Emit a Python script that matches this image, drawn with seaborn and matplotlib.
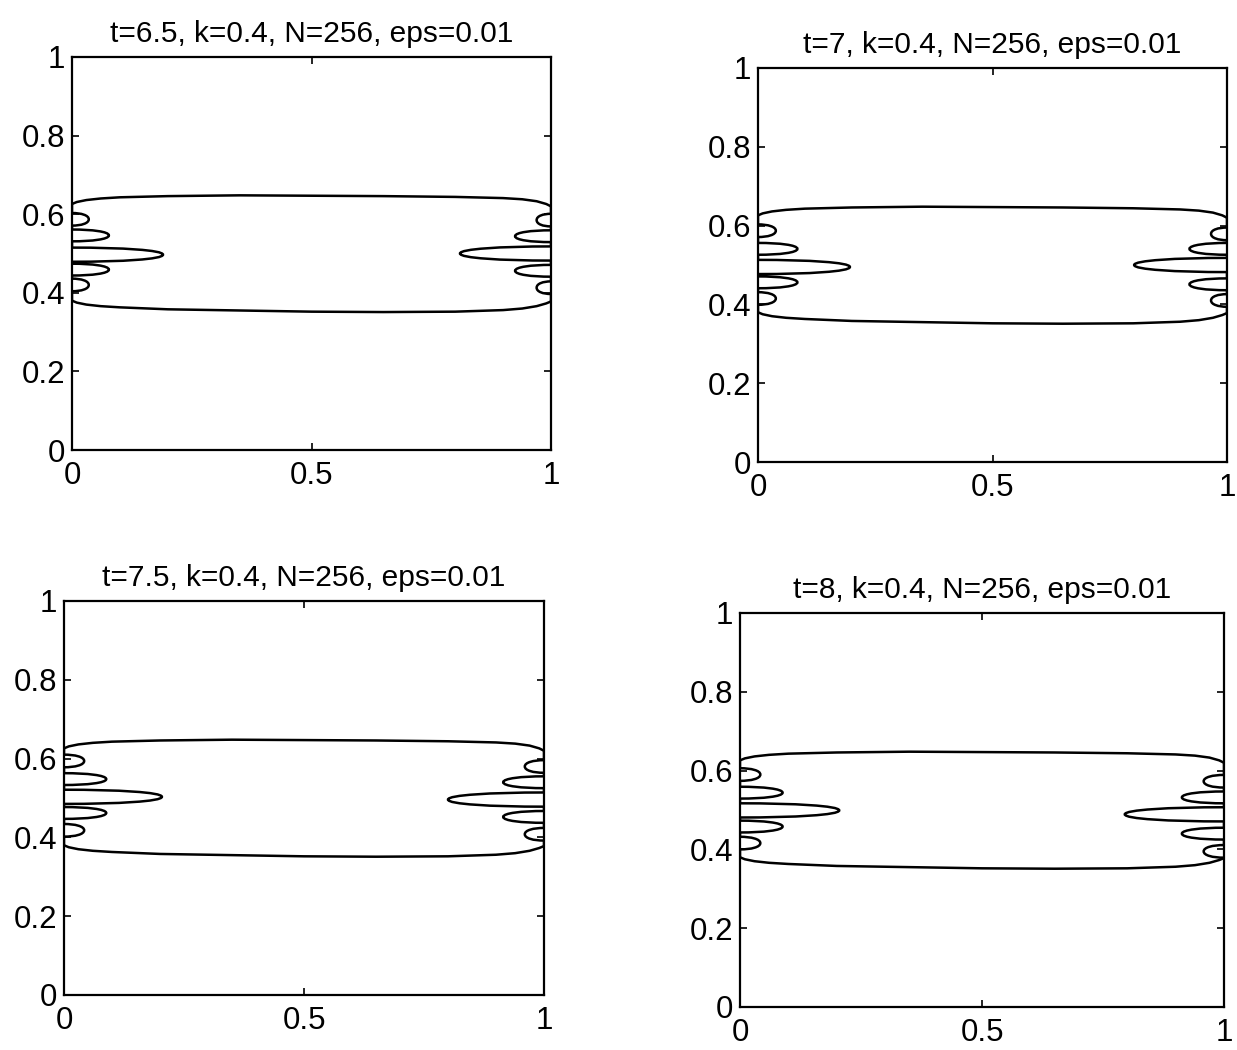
import matplotlib
matplotlib.use("Agg")
import matplotlib.pyplot as plt
from matplotlib.path import Path
from matplotlib.patches import PathPatch
import seaborn as sns

sns.set_style("ticks")
plt.rcParams['font.family'] = ['Liberation Sans', 'DejaVu Sans']
plt.rcParams['text.color'] = 'black'

# titles of the four snapshots
titles = ["t=6.5, k=0.4, N=256, eps=0.01", "t=7, k=0.4, N=256, eps=0.01",
          "t=7.5, k=0.4, N=256, eps=0.01", "t=8, k=0.4, N=256, eps=0.01"]

# upper and lower boundary of the band
edge_x = [0, 0.01, 0.03, 0.06, 0.1, 0.2, 0.35, 0.5, 0.65, 0.8, 0.9, 0.94, 0.97, 0.99, 1.0]
top_y = [0.626, 0.631, 0.636, 0.640, 0.643, 0.646, 0.648, 0.647, 0.646, 0.644, 0.641, 0.638, 0.633, 0.626, 0.620]
bot_y = [0.380, 0.375, 0.370, 0.366, 0.363, 0.358, 0.355, 0.352, 0.351, 0.352, 0.356, 0.360, 0.366, 0.373, 0.378]

# fingers: centre height, depth into the box, half width
left_y = [[0.420, 0.459, 0.497, 0.546, 0.587],
          [0.415, 0.456, 0.495, 0.541, 0.587],
          [0.418, 0.462, 0.503, 0.548, 0.594],
          [0.416, 0.458, 0.499, 0.544, 0.590]]
left_d = [[0.035, 0.077, 0.190, 0.077, 0.035],
          [0.038, 0.084, 0.196, 0.084, 0.038],
          [0.042, 0.088, 0.204, 0.088, 0.042],
          [0.042, 0.088, 0.205, 0.088, 0.042]]
right_y = [[0.585, 0.544, 0.500, 0.456, 0.413],
           [0.579, 0.541, 0.500, 0.451, 0.410],
           [0.580, 0.540, 0.496, 0.452, 0.408],
           [0.573, 0.532, 0.489, 0.440, 0.395]]
right_d = [[0.030, 0.075, 0.190, 0.075, 0.030],
           [0.034, 0.080, 0.198, 0.080, 0.034],
           [0.040, 0.085, 0.200, 0.085, 0.040],
           [0.042, 0.087, 0.205, 0.087, 0.042]]
finger_w = [0.016, 0.015, 0.018, 0.015, 0.016]

# axes boxes in figure pixels: left, right, top, bottom
boxes = [(72, 551, 57, 450), (758, 1227, 68, 462),
         (64, 544, 601, 995), (740, 1224, 613, 1007)]

W, H = 1237, 1050


def side_path(ys, ds, ws, x0, sign, y_start, y_end):
    verts = [(x0, y_start)]
    codes = [Path.MOVETO]
    for yc, d, hw in zip(ys, ds, ws):
        s = 1 if y_end > y_start else -1
        a, b = yc - s * hw, yc + s * hw
        verts += [(x0, a),
                  (x0 + sign * 0.55 * d, a), (x0 + sign * d, yc - s * 0.65 * hw), (x0 + sign * d, yc),
                  (x0 + sign * d, yc + s * 0.65 * hw), (x0 + sign * 0.55 * d, b), (x0, b)]
        codes += [Path.LINETO] + [Path.CURVE4] * 6
    verts.append((x0, y_end))
    codes.append(Path.LINETO)
    return Path(verts, codes)


fig = plt.figure(figsize=(W / 100, H / 100), dpi=100)
for i, (l, r, t, b) in enumerate(boxes):
    ax = fig.add_axes([l / W, 1 - b / H, (r - l) / W, (b - t) / H])
    sns.lineplot(x=edge_x, y=top_y, ax=ax, color="black", lw=1.8, sort=False, estimator=None)
    sns.lineplot(x=edge_x, y=bot_y, ax=ax, color="black", lw=1.8, sort=False, estimator=None)
    lp = side_path(left_y[i], left_d[i], finger_w, 0.0, 1, bot_y[0], top_y[0])
    rp = side_path(right_y[i], right_d[i], finger_w, 1.0, -1, top_y[-1], bot_y[-1])
    for p in (lp, rp):
        ax.add_patch(PathPatch(p, facecolor="none", edgecolor="black", lw=1.8))
    ax.set_xlim(0, 1)
    ax.set_ylim(0, 1)
    ax.set_xticks([0, 0.5, 1])
    ax.set_xticklabels(["0", "0.5", "1"])
    ax.set_yticks([0, 0.2, 0.4, 0.6, 0.8, 1])
    ax.set_yticklabels(["0", "0.2", "0.4", "0.6", "0.8", "1"])
    ax.tick_params(direction="in", length=5, width=1.2, labelsize=22.5,
                   top=True, right=True, colors="black", labelcolor="black")
    ax.tick_params(axis="x", pad=8)
    ax.tick_params(axis="y", pad=5)
    for sp in ax.spines.values():
        sp.set_linewidth(1.6)
        sp.set_color("black")
    ax.set_title(titles[i], fontsize=21.5, pad=11, color="black")

fig.savefig("out.png", dpi=100, facecolor="white")
